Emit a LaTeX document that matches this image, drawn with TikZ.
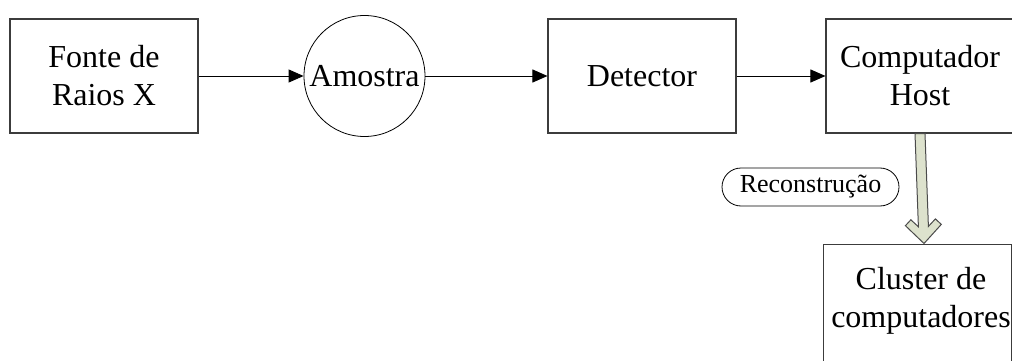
\documentclass[tikz,border=0pt]{standalone}
\usepackage{fontspec}
\setmainfont{Liberation Serif}
\usetikzlibrary{arrows.meta,shapes.misc}
\definecolor{boxgray}{RGB}{60,60,60}
\definecolor{arrowfill}{RGB}{221,226,205}
\definecolor{arrowline}{RGB}{75,75,75}
\newcommand\mainsize{\fontsize{32}{38}\selectfont}
\newcommand\labsize{\fontsize{26}{30}\selectfont}
\begin{document}
\begin{tikzpicture}[x=1pt,y=-1pt,
  box/.style={draw=boxgray, line width=1.1pt, minimum width=188pt, minimum height=114pt, align=center, inner sep=0pt, font=\mainsize},
  circ/.style={draw=black, circle, line width=0.8pt, minimum size=121pt, inner sep=0pt, font=\mainsize},
  conn/.style={-{Triangle[length=15pt,width=13pt]}, line width=0.9pt, draw=black},
  recbox/.style={draw=black, rounded rectangle, line width=0.8pt, minimum height=38pt, minimum width=177pt, inner sep=0pt, font=\labsize},
  txt/.style={align=center, inner sep=0pt, font=\mainsize},
  thick arrow/.style={fill=arrowfill, draw=arrowline, line width=1pt, line join=miter}
]
\useasboundingbox (0,0) rectangle (1012,361);
\clip (0,0) rectangle (1012,361);

\node[box] (fonte) at (104,76) {Fonte de\\Raios X};
\node[circ] (amostra) at (364.5,76) {Amostra};
\node[box] (detector) at (642,76) {Detector};
\node[box] (host) at (920,76) {Computador\\Host};
\node[box, minimum height=140pt, anchor=north west] (cluster) at (823,244) {};
\node[txt] (clustertext) at (921,301) {Cluster de\\computadores};
\node[recbox] (recon) at (810.5,187) {Reconstrução};

\draw[conn] (fonte.east) -- (amostra.west);
\draw[conn] (amostra.east) -- (detector.west);
\draw[conn] (detector.east) -- (host.west);

% wide hollow-headed arrow from host to cluster
\filldraw[thick arrow] (924,243.5) -- (941.3,224.4) -- (935.4,218.9) -- (928.4,226.4)
  -- (925,133.6) -- (915,133.6) -- (918.4,226.8) -- (910.85,219.8) -- (905.4,225.7) -- cycle;
\end{tikzpicture}
\end{document}
